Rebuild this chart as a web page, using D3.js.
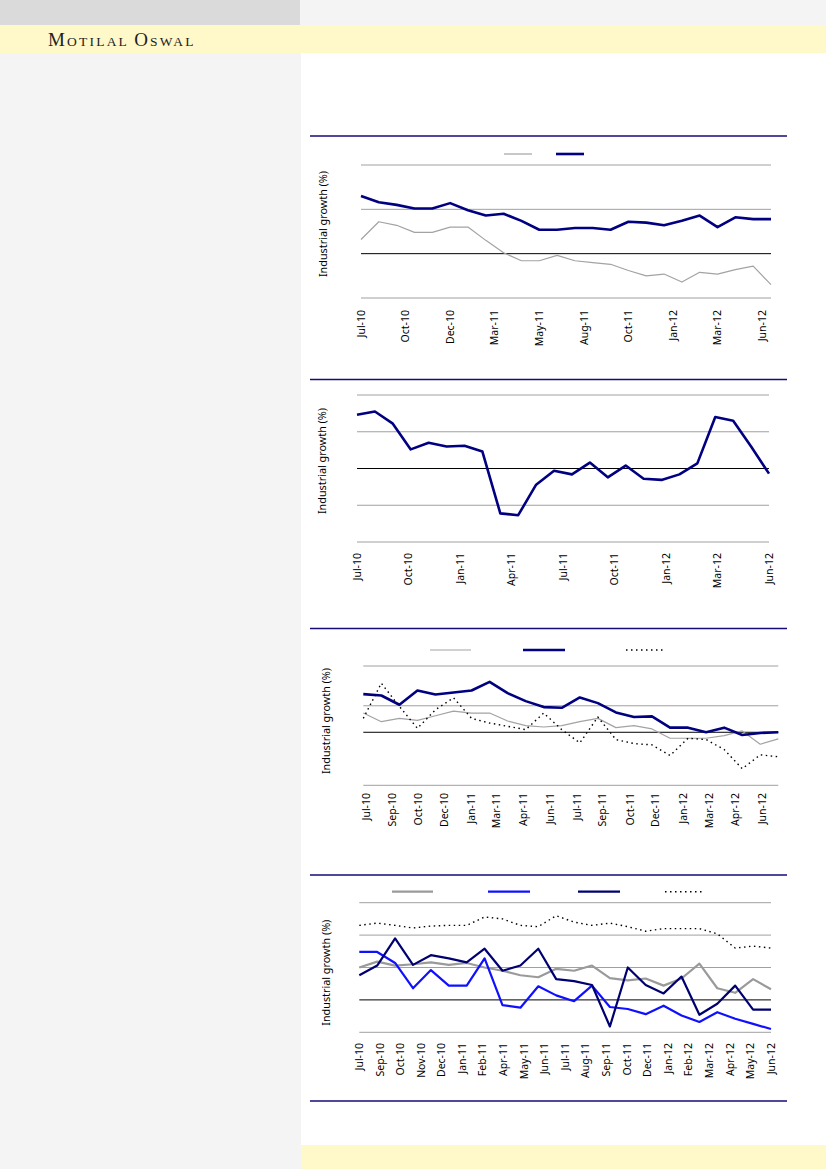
<!DOCTYPE html>
<html>
<head>
<meta charset="utf-8">
<script src="https://cdn.jsdelivr.net/npm/d3@7"></script>
<style>
  html, body { margin: 0; padding: 0; background: #fff; }
  svg { display: block; }
  text { font-family: "Noto Sans", "Open Sans", sans-serif; }
</style>
</head>
<body>
<svg id="page" width="826" height="1169"></svg>
<script>
// month categories, Jul-10 .. Jun-12
const months = ["Jul-10","Aug-10","Sep-10","Oct-10","Nov-10","Dec-10","Jan-11","Feb-11","Mar-11","Apr-11","May-11","Jun-11",
  "Jul-11","Aug-11","Sep-11","Oct-11","Nov-11","Dec-11","Jan-12","Feb-12","Mar-12","Apr-12","May-12","Jun-12"];

// chart 1
const c1Gray = [1.6, 3.6, 3.2, 2.4, 2.4, 3.0, 3.0, 1.5, 0.1, -0.8, -0.8, -0.2, -0.8, -1.0, -1.2, -1.9, -2.5, -2.3, -3.2, -2.1, -2.3, -1.8, -1.4, -3.5];
const c1Navy = [6.5, 5.8, 5.5, 5.1, 5.1, 5.7, 4.9, 4.3, 4.5, 3.7, 2.7, 2.7, 2.9, 2.9, 2.7, 3.6, 3.5, 3.2, 3.7, 4.3, 3.0, 4.1, 3.9, 3.9];
const c1Grid = [-5, 0, 5, 10];
const c1TickPos = [0, 2.5, 5, 7.5, 10, 12.5, 15, 17.5, 20, 22.5];
const c1TickLabels = ["Jul-10","Oct-10","Dec-10","Mar-11","May-11","Aug-11","Oct-11","Jan-12","Mar-12","Jun-12"];

// chart 2
const c2Navy = [7.3, 7.75, 6.1, 2.6, 3.5, 3.0, 3.1, 2.3, -6.1, -6.35, -2.2, -0.3, -0.8, 0.8, -1.2, 0.4, -1.4, -1.55, -0.8, 0.7, 7.0, 6.5, 3.0, -0.7];
const c2Grid = [-10, -5, 0, 5, 10];
const c2TickPos = [0, 2.875, 5.75, 8.625, 11.5, 14.375, 17.25, 20.125, 23];
const c2TickLabels = ["Jul-10","Oct-10","Jan-11","Apr-11","Jul-11","Oct-11","Jan-12","Mar-12","Jun-12"];

// chart 3
const c3Gray = [2.9, 1.6, 2.1, 1.8, 2.5, 3.2, 2.9, 2.9, 1.7, 1.0, 0.8, 1.0, 1.6, 2.1, 0.7, 1.0, 0.5, -0.9, -0.9, -0.9, -0.5, 0.2, -1.8, -1.0];
const c3Navy = [5.76, 5.55, 4.15, 6.3, 5.7, 6.0, 6.3, 7.6, 5.9, 4.7, 3.8, 3.7, 5.25, 4.4, 3.0, 2.3, 2.4, 0.7, 0.7, 0.0, 0.7, -0.4, -0.1, 0.0];
const c3Dot = [2.1, 7.4, 3.9, 0.6, 3.4, 5.2, 2.1, 1.4, 0.9, 0.4, 2.9, 0.4, -1.6, 2.3, -1.1, -1.7, -1.9, -3.5, -0.9, -1.1, -2.6, -5.5, -3.4, -3.7];
const c3Grid = [-8, 0, 4, 10];
const c3TickPos = [0.19, 1.61, 3.05, 4.49, 6.01, 7.39, 8.87, 10.35, 11.88, 13.25, 14.78, 16.17, 17.74, 19.16, 20.6, 22.12];
const c3TickLabels = ["Jul-10","Sep-10","Oct-10","Dec-10","Jan-11","Mar-11","Apr-11","Jun-11","Jul-11","Sep-11","Oct-11","Dec-11","Jan-12","Mar-12","Apr-12","Jun-12"];

// chart 4
const c4Gray = [5.0, 5.9, 5.3, 5.5, 5.8, 5.4, 5.7, 5.0, 4.5, 3.8, 3.5, 4.8, 4.5, 5.3, 3.35, 3.0, 3.3, 2.2, 3.3, 5.6, 1.8, 1.1, 3.2, 1.65];
const c4Blue = [7.4, 7.4, 5.7, 1.8, 4.6, 2.2, 2.2, 6.4, -0.8, -1.2, 2.1, 0.7, -0.2, 2.2, -1.1, -1.4, -2.2, -0.9, -2.4, -3.4, -1.9, -2.9, -3.7, -4.5];
const c4Navy = [3.8, 5.3, 9.5, 5.4, 6.9, 6.4, 5.8, 7.9, 4.5, 5.3, 7.9, 3.2, 2.9, 2.3, -4.1, 5.0, 2.3, 1.0, 3.6, -2.3, -0.6, 2.2, -1.5, -1.5];
const c4Dot = [11.5, 11.85, 11.5, 11.1, 11.4, 11.5, 11.5, 12.8, 12.5, 11.5, 11.3, 13.0, 12.0, 11.5, 11.85, 11.3, 10.6, 11.0, 11.0, 11.0, 10.2, 8.0, 8.3, 8.0];
const c4Grid = [-5, 0, 5, 10, 15];
const c4TickPos = [0, 1.15, 2.3, 3.45, 4.6, 5.75, 6.9, 8.05, 9.2, 10.35, 11.5, 12.65, 13.8, 14.95, 16.1, 17.25, 18.4, 19.55, 20.7, 21.85, 23];
const c4TickLabels = ["Jul-10","Sep-10","Oct-10","Nov-10","Dec-10","Jan-11","Feb-11","Apr-11","May-11","Jun-11","Jul-11","Aug-11","Sep-11","Oct-11","Dec-11","Jan-12","Feb-12","Mar-12","Apr-12","May-12","Jun-12"];

const yTitle = "Industrial growth (%)";
const ruleColor = "#140a78";

const styles = {
  thinGray: { stroke: "#a3a3a3", width: 1.2 },
  thickGray: { stroke: "#9a9a9a", width: 2.2 },
  navy: { stroke: "#000080", width: 2.6 },
  navyMid: { stroke: "#000070", width: 2.2 },
  blue: { stroke: "#1010ff", width: 2.2 },
  dots: { stroke: "#000", width: 1.4, dash: "1.5,3.5" },
};

const svg = d3.select("#page");

// page background bands
svg.append("rect").attr("x", 0).attr("y", 0).attr("width", 826).attr("height", 1169).attr("fill", "#fff");
svg.append("rect").attr("x", 0).attr("y", 0).attr("width", 300).attr("height", 25).attr("fill", "#dadada");
svg.append("rect").attr("x", 300).attr("y", 0).attr("width", 526).attr("height", 25).attr("fill", "#f4f4f4");
svg.append("rect").attr("x", 0).attr("y", 25).attr("width", 826).attr("height", 28).attr("fill", "#fff8c8");
svg.append("rect").attr("x", 0).attr("y", 53).attr("width", 301).attr("height", 1116).attr("fill", "#f4f4f4");
svg.append("rect").attr("x", 301).attr("y", 1145).attr("width", 525).attr("height", 24).attr("fill", "#fff8c8");

const logo = svg.append("text")
  .attr("x", 48).attr("y", 46)
  .attr("fill", "#222")
  .style("font-family", "'Liberation Serif', 'DejaVu Serif', serif")
  .style("letter-spacing", "2.2px");
[["M", 19], ["OTILAL", 13.5], [" ", 13.5], ["O", 19], ["SWAL", 13.5]].forEach(([t, s]) => {
  logo.append("tspan").style("font-size", s + "px").text(t);
});

function rule(y) {
  svg.append("line")
    .attr("x1", 310).attr("x2", 787)
    .attr("y1", y).attr("y2", y)
    .attr("stroke", ruleColor).attr("stroke-width", 1.5);
}

function drawChart(cfg) {
  rule(cfg.ruleY);

  const x = d3.scaleLinear().domain([0, months.length - 1]).range(cfg.xRange);
  const y = d3.scaleLinear().domain(cfg.yDomain).range(cfg.yRange);
  const g = svg.append("g");

  // gridlines
  g.append("g")
    .selectAll("line")
    .data(cfg.grid.filter((v) => v !== 0))
    .join("line")
    .attr("x1", cfg.xRange[0]).attr("x2", cfg.xRange[1])
    .attr("y1", (d) => y(d)).attr("y2", (d) => y(d))
    .attr("stroke", "#a0a0a0").attr("stroke-width", 1);

  // zero axis
  g.append("line")
    .attr("x1", cfg.xRange[0]).attr("x2", cfg.xRange[1])
    .attr("y1", y(0)).attr("y2", y(0))
    .attr("stroke", "#000").attr("stroke-width", 1);

  // series
  const line = d3.line().x((d, i) => x(i)).y((d) => y(d));
  cfg.series.forEach((s) => {
    g.append("path")
      .datum(s.values)
      .attr("d", line)
      .attr("fill", "none")
      .attr("stroke", s.style.stroke)
      .attr("stroke-width", s.style.width)
      .attr("stroke-dasharray", s.style.dash || null)
      .attr("stroke-linejoin", "round");
  });

  // legend swatches (no labels in source)
  if (cfg.legend) {
    cfg.legend.items.forEach((it, i) => {
      const st = cfg.series[i].style;
      g.append("line")
        .attr("x1", it[0]).attr("x2", it[1])
        .attr("y1", cfg.legend.y).attr("y2", cfg.legend.y)
        .attr("stroke", st.stroke)
        .attr("stroke-width", st.width)
        .attr("stroke-dasharray", st.dash || null);
    });
  }

  // x tick labels, rotated
  g.append("g")
    .selectAll("text")
    .data(cfg.tickPos)
    .join("text")
    .attr("transform", (d) => `translate(${x(d)},${cfg.labelTop}) rotate(-90)`)
    .attr("text-anchor", "end")
    .attr("dy", "0.35em")
    .style("font-size", "10.5px")
    .attr("fill", "#000")
    .text((d, i) => cfg.tickLabels[i]);

  // y title
  g.append("text")
    .attr("transform", `translate(${cfg.titleX},${cfg.titleY}) rotate(-90)`)
    .attr("text-anchor", "middle")
    .attr("dy", "0.35em")
    .style("font-size", "10.8px")
    .attr("fill", "#000")
    .text(yTitle);
}

drawChart({
  ruleY: 136,
  xRange: [361, 771], yDomain: [-5, 10], yRange: [298, 165],
  grid: c1Grid, tickPos: c1TickPos, tickLabels: c1TickLabels, labelTop: 310,
  titleX: 323, titleY: 224,
  series: [
    { values: c1Gray, style: styles.thinGray },
    { values: c1Navy, style: styles.navy },
  ],
  legend: { y: 154, items: [[504, 532], [556, 584]] },
});

drawChart({
  ruleY: 379.5,
  xRange: [357, 769], yDomain: [-10, 10], yRange: [542, 395],
  grid: c2Grid, tickPos: c2TickPos, tickLabels: c2TickLabels, labelTop: 553,
  titleX: 322.7, titleY: 461,
  series: [{ values: c2Navy, style: styles.navy }],
});

drawChart({
  ruleY: 628.5,
  xRange: [363.3, 778.3], yDomain: [-8, 10], yRange: [785.3, 666],
  grid: c3Grid, tickPos: c3TickPos, tickLabels: c3TickLabels, labelTop: 793,
  titleX: 326.7, titleY: 721,
  series: [
    { values: c3Gray, style: styles.thinGray },
    { values: c3Navy, style: styles.navy },
    { values: c3Dot, style: styles.dots },
  ],
  legend: { y: 650, items: [[430, 471], [523, 565], [626, 666]] },
});

drawChart({
  ruleY: 875,
  xRange: [359.3, 771], yDomain: [-5, 15], yRange: [1032.3, 902.7],
  grid: c4Grid, tickPos: c4TickPos, tickLabels: c4TickLabels, labelTop: 1043,
  titleX: 326.7, titleY: 972.7,
  series: [
    { values: c4Gray, style: styles.thickGray },
    { values: c4Blue, style: styles.blue },
    { values: c4Navy, style: styles.navyMid },
    { values: c4Dot, style: styles.dots },
  ],
  legend: { y: 891.7, items: [[392, 433], [488, 530], [578, 620], [665, 705]] },
});

rule(1101);
</script>
</body>
</html>
